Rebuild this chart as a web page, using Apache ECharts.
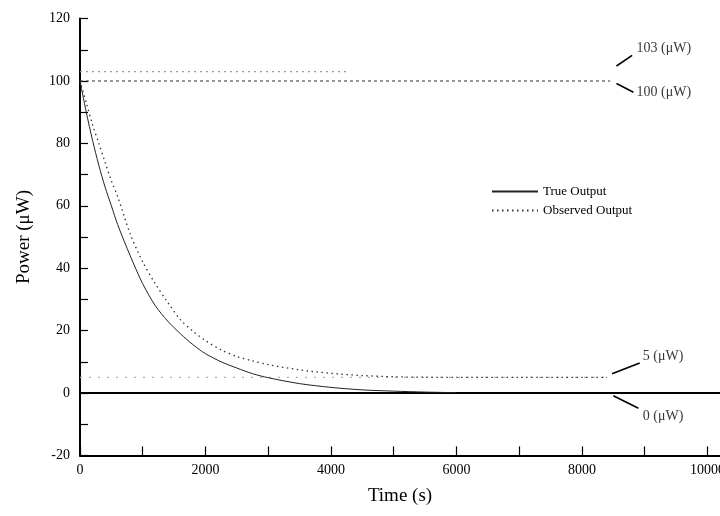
<!DOCTYPE html>
<html><head><meta charset="utf-8">
<script src="https://cdn.jsdelivr.net/npm/echarts@6/dist/echarts.min.js"></script>
<style>html,body{margin:0;padding:0;background:#fff}#c{width:720px;height:516px}</style>
</head><body><div id="c"></div>
<script>
// ---- data ----
const times = [0,100,200,300,400,500,600,800,1000,1200,1400,1600,1800,2000,2250,2500,2750,3000,3500,4000,4500,5000,5500,6000];
const trueOutput = [100,90,81,73,66,60,54,44,35,28,23,19,15.5,12.6,10,8,6.2,4.9,3.0,1.8,1.0,0.6,0.3,0.1];
const obsTimes = [0,100,200,300,400,500,600,800,1000,1200,1400,1600,1800,2000,2250,2500,2750,3000,3500,4000,4500,5000,5500,6000,7000,8000,8400];
const observedOutput = [100,93,86,80,74,68,63,51,42,35,29,23.5,19.8,16.8,13.8,11.7,10.3,9.1,7.4,6.3,5.6,5.2,5.05,5.0,5.0,5.0,5.0];
const ref103 = [[0,103],[4300,103]];
const ref100 = [[0,100],[8450,100]];
const ref5 = [[0,5],[8400,5]];
const zeroLine = [[0,0],[10200,0]];
const xTicks = [0,2000,4000,6000,8000,10000];
const xMinorTicks = [0,1000,2000,3000,4000,5000,6000,7000,8000,9000,10000];
const yTicks = [-20,0,20,40,60,80,100,120];
const yMinorTicks = [-20,-10,0,10,20,30,40,50,60,70,80,90,100,110,120];
// annotations: [label, leader start, leader end, text anchor] in data coords
const annotations = [
  ['103 (\u03bcW)', [8550,104.8], [8800,108.2], [8870,110.6]],
  ['100 (\u03bcW)', [8550,99.2], [8820,96.4], [8870,96.4]],
  ['5 (\u03bcW)', [8480,6.2], [8920,9.6], [8970,11.8]],
  ['0 (\u03bcW)', [8500,-0.9], [8900,-4.9], [8970,-7.4]]
];

const font = 'Liberation Serif';
const chart = echarts.init(document.getElementById('c'));
const lineSeries = (name, data, color, type, width) => ({
  name, type:'line', data, symbol:'none', silent:true, animation:false,
  lineStyle:{color, type, width}, itemStyle:{color}, z: 3
});
const annSeries = annotations.map(a => ({
  type:'line', data:[a[1],a[2]], symbol:'none', silent:true, animation:false,
  lineStyle:{color:'#000', width:1.6}
}));
const annLabels = {
  type:'scatter', symbolSize:0, silent:true, animation:false,
  data: annotations.map(a => ({value:a[3], name:a[0]})),
  label:{show:true, position:'right', distance:0, formatter:p=>p.name, color:'#000', fontFamily:font, fontSize:14}
};
chart.setOption({
  backgroundColor:'#fff',
  animation:false,
  grid:{left:80, right:0, top:18.6, bottom:60.6, outerBoundsMode:'none', containLabel:false},
  legend:{
    data:['True Output','Observed Output'],
    orient:'vertical', left:486, top:180,
    itemWidth:46, itemHeight:10, itemGap:6,
    itemStyle:{opacity:0},
    textStyle:{fontFamily:font, fontSize:13, color:'#000'}
  },
  xAxis:{
    type:'value', min:0, max:10200,
    name:'Time (s)', nameLocation:'middle', nameGap:31,
    nameTextStyle:{fontFamily:font, fontSize:19, color:'#000'},
    axisLine:{onZero:false, lineStyle:{color:'#000', width:2}},
    axisTick:{inside:true, length:9, customValues:xMinorTicks, lineStyle:{color:'#000', width:1.2}},
    axisLabel:{fontFamily:font, fontSize:14, color:'#000', margin:8, customValues:xTicks, formatter:v=>String(v)},
    splitLine:{show:false}
  },
  yAxis:{
    type:'value', min:-20, max:120,
    name:'Power (\u03bcW)', nameLocation:'middle', nameGap:46,
    nameTextStyle:{fontFamily:font, fontSize:19, color:'#000'},
    axisLine:{lineStyle:{color:'#000', width:2}},
    axisTick:{inside:true, length:8, customValues:yMinorTicks, lineStyle:{color:'#000', width:1.2}},
    axisLabel:{fontFamily:font, fontSize:14, color:'#000', margin:10, customValues:yTicks, formatter:v=>String(v)},
    splitLine:{show:false}
  },
  series:[
    lineSeries('ref103', ref103, '#9a9a9a', [2,4], 1.3),
    lineSeries('ref100', ref100, '#333', [3,3], 1),
    lineSeries('ref5', ref5, '#b0b0b0', [2,7], 1.2),
    lineSeries('zero', zeroLine, '#000', 'solid', 2),
    Object.assign(lineSeries('True Output', times.map((t,i)=>[t,trueOutput[i]]), '#222', 'solid', 1), {smooth:0.3}),
    Object.assign(lineSeries('Observed Output', obsTimes.map((t,i)=>[t,observedOutput[i]]), '#333', [1.5,3.5], 1.3), {smooth:0.3}),
    ...annSeries,
    annLabels
  ]
});
</script></body></html>
